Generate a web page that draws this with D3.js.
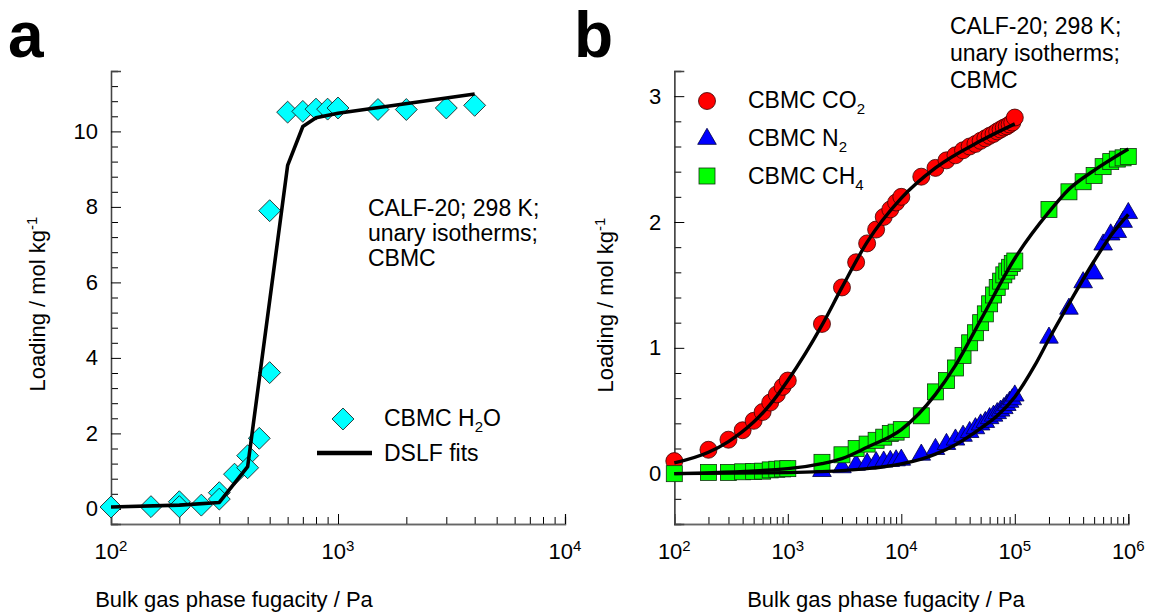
<!DOCTYPE html>
<html>
<head>
<meta charset="utf-8">
<script src="https://cdn.jsdelivr.net/npm/d3@7"></script>
<style>
  html, body { margin: 0; padding: 0; background: #fff; }
  svg { display: block; font-family: Arial, "Liberation Sans", sans-serif; }
</style>
</head>
<body>
<svg id="chart" width="1150" height="616"></svg>
<script>
// ---------------- DATA ----------------
// Panel a: H2O in CALF-20 (CBMC points) and DSLF fit
const h2oP = [100,150,200,200,250,300,300,350,400,400,450,500,500,600,700,800,900,1000,1500,2000,3000,4000];
const h2oQ = [0.05,0.06,0.19,0.06,0.10,0.43,0.26,0.92,1.41,1.09,1.87,3.61,7.90,10.51,10.53,10.59,10.59,10.62,10.58,10.58,10.62,10.69];
const h2oFitP = [100,200,300,400,600,700,800,1000,4000];
const h2oFitQ = [0.05,0.10,0.17,1.12,9.10,10.13,10.36,10.48,10.99];

// Panel b: CO2, N2, CH4 CBMC points
const co2P = [100,200,300,400,500,600,700,800,900,1000,2000,3000,4000,5000,6000,7000,8000,9000,10000,15000,20000,25000,30000,35000,40000,45000,50000,55000,60000,65000,70000,75000,80000,85000,90000,95000,100000];
const co2Q = [0.10,0.19,0.27,0.345,0.42,0.49,0.565,0.63,0.69,0.74,1.19,1.48,1.68,1.83,1.94,2.04,2.10,2.155,2.20,2.36,2.43,2.49,2.53,2.57,2.60,2.62,2.645,2.665,2.685,2.70,2.72,2.735,2.75,2.76,2.775,2.79,2.83];
const co2FitP = [100,200,300,500,700,1000,2000,3000,5000,10000,20000,50000,100000];
const co2FitQ = [0.085,0.17,0.255,0.41,0.55,0.74,1.18,1.48,1.84,2.19,2.43,2.645,2.78];

const n2P = [2000,3000,4000,5000,6000,7000,8000,9000,10000,15000,20000,25000,30000,35000,40000,45000,50000,55000,60000,65000,70000,75000,80000,85000,90000,95000,100000,200000,300000,400000,500000,600000,700000,800000,900000,1000000];
const n2Q = [0.02,0.05,0.07,0.08,0.09,0.095,0.10,0.105,0.11,0.15,0.195,0.235,0.27,0.30,0.33,0.36,0.39,0.41,0.44,0.46,0.48,0.50,0.52,0.545,0.57,0.59,0.62,1.08,1.31,1.52,1.59,1.82,1.90,1.92,2.00,2.07];
const n2FitP = [100,1000,2000,3000,5000,7000,10000,15000,20000,30000,50000,70000,100000,150000,200000,300000,500000,700000,1000000];
const n2FitQ = [0.0,0.008,0.016,0.024,0.04,0.055,0.078,0.115,0.155,0.23,0.36,0.46,0.61,0.86,1.07,1.35,1.69,1.89,2.06];

const ch4P = [100,200,300,400,500,600,700,800,900,1000,2000,3000,4000,5000,6000,7000,8000,9000,10000,15000,20000,25000,30000,35000,40000,45000,50000,55000,60000,65000,70000,75000,80000,85000,90000,95000,100000,200000,300000,400000,500000,600000,700000,800000,900000,1000000];
const ch4Q = [0.0,0.01,0.01,0.015,0.017,0.02,0.03,0.035,0.038,0.04,0.09,0.15,0.20,0.235,0.265,0.29,0.32,0.33,0.35,0.46,0.65,0.74,0.84,0.94,1.04,1.12,1.20,1.27,1.35,1.42,1.48,1.53,1.58,1.61,1.64,1.67,1.69,2.10,2.24,2.32,2.37,2.44,2.48,2.50,2.51,2.52];
const ch4FitP = [100,1000,2000,3000,5000,10000,20000,30000,50000,100000,200000,300000,500000,1000000];
const ch4FitQ = [0.0,0.04,0.08,0.12,0.21,0.35,0.63,0.86,1.22,1.71,2.08,2.26,2.41,2.58];

// Tick labels
const xExpA = [2,3,4];
const xExpB = [2,3,4,5,6];
const yMajorA = [0,2,4,6,8,10];
const yMajorB = [0,1,2,3];

// Legend / annotation texts
const annoLines = ["CALF-20; 298 K;", "unary isotherms;", "CBMC"];

// ---------------- DRAW ----------------
const svg = d3.select("#chart");
const FS = 22;
const FS2 = 23;

function zip(a, b) { return a.map((v, i) => [v, b[i]]); }

function makePanel(cfg) {
  const g = svg.append("g");
  const x = d3.scaleLog().domain(cfg.xDomain).range(cfg.xRange);
  const y = d3.scaleLinear().domain(cfg.yDomain).range(cfg.yRange);

  const decs = [];
  for (let e = Math.log10(cfg.xDomain[0]); e < Math.log10(cfg.xDomain[1]); e++) {
    for (let m = 2; m <= 9; m++) decs.push(m * Math.pow(10, e));
  }
  const majorsX = cfg.xExp.map(e => Math.pow(10, e));

  const xMinorAxis = d3.axisBottom(x).tickValues(decs).tickSize(-7).tickFormat("");
  const xMajorAxis = d3.axisBottom(x).tickValues(majorsX).tickSize(-10).tickFormat("");
  const gxm = g.append("g").attr("transform", `translate(0,${cfg.yRange[0]})`).call(xMinorAxis);
  const gxM = g.append("g").attr("transform", `translate(0,${cfg.yRange[0]})`).call(xMajorAxis);
  [gxm, gxM].forEach(s => {
    s.select(".domain").attr("stroke", "#666").attr("stroke-width", 1.3);
    s.selectAll(".tick line").attr("stroke", "#000").attr("stroke-width", 1);
  });

  const yMinor = [];
  const steps = Math.round((cfg.yDomain[1] - cfg.yDomain[0]) / cfg.yMinorStep);
  for (let i = 0; i <= steps; i++) {
    const v = +(cfg.yDomain[0] + i * cfg.yMinorStep).toFixed(4);
    if (!cfg.yMajor.some(m => Math.abs(m - v) < 1e-6)) yMinor.push(v);
  }
  const yMinorAxis = d3.axisLeft(y).tickValues(yMinor).tickSize(-7).tickFormat("");
  const yMajorAxis = d3.axisLeft(y).tickValues(cfg.yMajor).tickSize(-10).tickPadding(13).tickFormat(d3.format("d"));
  const gym = g.append("g").attr("transform", `translate(${cfg.xRange[0]},0)`).call(yMinorAxis);
  const gyM = g.append("g").attr("transform", `translate(${cfg.xRange[0]},0)`).call(yMajorAxis);
  [gym, gyM].forEach(s => {
    s.select(".domain").attr("stroke", "#444").attr("stroke-width", 1.3);
    s.selectAll(".tick line").attr("stroke", "#000").attr("stroke-width", 1);
  });
  gyM.selectAll(".tick text").attr("font-size", FS).attr("fill", "#000")
     .attr("font-family", "Arial, 'Liberation Sans', sans-serif");

  const xl = g.append("g");
  cfg.xExp.forEach(e => {
    const t = xl.append("text").attr("x", x(Math.pow(10, e))).attr("y", cfg.xLabelY)
      .attr("text-anchor", "middle").attr("font-size", FS).attr("fill", "#000");
    t.append("tspan").text("10");
    t.append("tspan").attr("font-size", 15).attr("dy", -8).text(String(e));
  });

  g.append("text").attr("x", cfg.xTitleX).attr("y", cfg.xTitleY).attr("text-anchor", "middle")
    .attr("font-size", FS).attr("fill", "#000").text("Bulk gas phase fugacity / Pa");
  const yt = g.append("text").attr("transform", `translate(${cfg.yTitleX},${cfg.yTitleY}) rotate(-90)`)
    .attr("text-anchor", "middle").attr("font-size", FS).attr("fill", "#000");
  yt.append("tspan").text("Loading / mol kg");
  yt.append("tspan").attr("font-size", 15).attr("dy", -8).text("-1");

  g.append("text").attr("x", cfg.letterX).attr("y", cfg.letterY).attr("font-size", 64)
    .attr("font-weight", "bold").attr("fill", "#000").text(cfg.letter);

  annoLines.forEach((s, i) => {
    g.append("text").attr("x", cfg.annoX).attr("y", cfg.annoY + i * cfg.annoDY)
      .attr("font-size", FS2).attr("fill", "#000").text(s);
  });
  return { g, x, y };
}

// ---- Panel a ----
const A = makePanel({
  xDomain: [1e2, 1e4], xRange: [111, 565],
  yDomain: [-0.4, 11.6], yRange: [524, 71],
  yMinorStep: 0.4, yMajor: yMajorA, xExp: xExpA,
  xLabelY: 559, xTitleX: 234, xTitleY: 607,
  yTitleX: 45, yTitleY: 304,
  letter: "a", letterX: 8, letterY: 57,
  annoX: 368, annoY: 216, annoDY: 25
});

A.g.append("g").selectAll("path").data(zip(h2oP, h2oQ)).join("path")
  .attr("d", d3.symbol().type(d3.symbolSquare).size(240))
  .attr("transform", d => `translate(${A.x(d[0])},${A.y(d[1])}) rotate(45)`)
  .attr("fill", "#00FFFF").attr("stroke", "#1a1a1a").attr("stroke-width", 0.8);

A.g.append("path").datum(zip(h2oFitP, h2oFitQ))
  .attr("d", d3.line().x(d => A.x(d[0])).y(d => A.y(d[1])))
  .attr("fill", "none").attr("stroke", "#000").attr("stroke-width", 3.6).attr("stroke-linejoin", "round");

const legA = A.g.append("g");
legA.append("path").attr("d", d3.symbol().type(d3.symbolSquare).size(240)())
  .attr("transform", "translate(343,419) rotate(45)")
  .attr("fill", "#00FFFF").attr("stroke", "#1a1a1a").attr("stroke-width", 0.8);
const la1 = legA.append("text").attr("x", 384).attr("y", 426).attr("font-size", FS2).attr("fill", "#000");
la1.append("tspan").text("CBMC H");
la1.append("tspan").attr("font-size", 15).attr("dy", 6).text("2");
la1.append("tspan").attr("dy", -6).text("O");
legA.append("line").attr("x1", 317).attr("x2", 372).attr("y1", 453).attr("y2", 453)
  .attr("stroke", "#000").attr("stroke-width", 4.5);
legA.append("text").attr("x", 384).attr("y", 461).attr("font-size", FS2).attr("fill", "#000").text("DSLF fits");

// ---- Panel b ----
const B = makePanel({
  xDomain: [1e2, 1e6], xRange: [674.3, 1128.3],
  yDomain: [-0.4, 3.2], yRange: [524, 71],
  yMinorStep: 0.2, yMajor: yMajorB, xExp: xExpB,
  xLabelY: 559, xTitleX: 886, xTitleY: 607,
  yTitleX: 613, yTitleY: 305,
  letter: "b", letterX: 574, letterY: 57,
  annoX: 950, annoY: 34, annoDY: 27
});

const gb = B.g.append("g");
gb.append("g").selectAll("circle").data(zip(co2P, co2Q)).join("circle")
  .attr("cx", d => B.x(d[0])).attr("cy", d => B.y(d[1])).attr("r", 8.5)
  .attr("fill", "#FF0000").attr("stroke", "#3a0000").attr("stroke-width", 0.8);
const tri = d3.symbol().type(d3.symbolTriangle).size(150);
gb.append("g").selectAll("path").data(zip(n2P, n2Q)).join("path")
  .attr("d", tri).attr("transform", d => `translate(${B.x(d[0])},${B.y(d[1])})`)
  .attr("fill", "#0000FF").attr("stroke", "#000040").attr("stroke-width", 0.8);
gb.append("g").selectAll("rect").data(zip(ch4P, ch4Q)).join("rect")
  .attr("x", d => B.x(d[0]) - 8).attr("y", d => B.y(d[1]) - 8).attr("width", 16).attr("height", 16)
  .attr("fill", "#00FF00").attr("stroke", "#103010").attr("stroke-width", 0.8);

const curve = d3.line().x(d => B.x(d[0])).y(d => B.y(d[1])).curve(d3.curveMonotoneX);
[[co2FitP, co2FitQ], [n2FitP, n2FitQ], [ch4FitP, ch4FitQ]].forEach(([p, q]) => {
  B.g.append("path").datum(zip(p, q)).attr("d", curve)
    .attr("fill", "none").attr("stroke", "#000").attr("stroke-width", 3.4);
});

const legB = B.g.append("g");
legB.append("circle").attr("cx", 707).attr("cy", 101).attr("r", 8.5)
  .attr("fill", "#FF0000").attr("stroke", "#3a0000").attr("stroke-width", 0.8);
legB.append("path").attr("d", tri()).attr("transform", "translate(707,139)")
  .attr("fill", "#0000FF").attr("stroke", "#000040").attr("stroke-width", 0.8);
legB.append("rect").attr("x", 699).attr("y", 168).attr("width", 16).attr("height", 16)
  .attr("fill", "#00FF00").attr("stroke", "#103010").attr("stroke-width", 0.8);
const legItems = [["CBMC CO", "2", 108], ["CBMC N", "2", 146], ["CBMC CH", "4", 184]];
legItems.forEach(([s, sub, yy]) => {
  const t = legB.append("text").attr("x", 748).attr("y", yy).attr("font-size", FS2).attr("fill", "#000");
  t.append("tspan").text(s);
  t.append("tspan").attr("font-size", 15).attr("dy", 6).text(sub);
});
</script>
</body>
</html>
